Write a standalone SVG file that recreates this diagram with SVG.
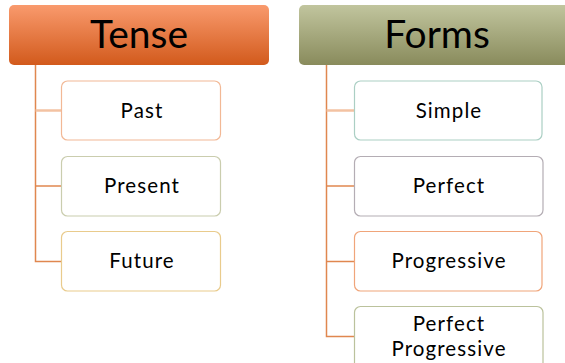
<svg xmlns="http://www.w3.org/2000/svg" width="565" height="363" viewBox="0 0 565 363">
<defs>
<linearGradient id="gOrange" x1="0" y1="0" x2="0" y2="1">
<stop offset="0" stop-color="#F99A6D"/>
<stop offset="1" stop-color="#D25A1C"/>
</linearGradient>
<linearGradient id="gOlive" x1="0" y1="0" x2="0" y2="1">
<stop offset="0" stop-color="#C1C59E"/>
<stop offset="1" stop-color="#898B5C"/>
</linearGradient>
</defs>
<style>
.head{font-family:"Lato","Open Sans",sans-serif;font-size:39px;fill:#000;text-anchor:middle}
.lbl{font-family:"Lato","Open Sans",sans-serif;font-size:20.5px;letter-spacing:1.1px;fill:#000;text-anchor:middle}
.child{fill:#fff;stroke-width:1.2}
.conn{stroke:#E0874F;stroke-width:1.5;fill:none}
</style>
<rect width="565" height="363" fill="#fff"/>
<g id="connectors">
<path class="conn" d="M35.5 65V261.5H61"/>
<path d="M35.5 110.5H61" stroke="#F3C2A2" stroke-width="2.5"/>
<path class="conn" d="M35.5 186H61"/>
<path class="conn" d="M326.5 65V336.5H354"/>
<path d="M326.5 110.5H354" stroke="#F3C2A2" stroke-width="2.5"/>
<path class="conn" d="M326.5 186H354"/>
<path class="conn" d="M326.5 261.5H354"/>
</g>
<g id="tense">
<rect x="9" y="5" width="260" height="60" rx="5" fill="url(#gOrange)"/>
<text class="head" x="139" y="48">Tense</text>
</g>
<g id="forms">
<rect x="299" y="5" width="275" height="60" rx="5" fill="url(#gOlive)"/>
<text class="head" x="437" y="48">Forms</text>
</g>
<g id="past">
<rect class="child" x="61.5" y="81" width="159" height="59" rx="6" stroke="#F2B895"/>
<text class="lbl" x="142" y="118">Past</text>
</g>
<g id="present">
<rect class="child" x="61.5" y="156.5" width="159" height="59.5" rx="6" stroke="#CACDAE"/>
<text class="lbl" x="142" y="193">Present</text>
</g>
<g id="future">
<rect class="child" x="61.5" y="231.5" width="159" height="59.5" rx="6" stroke="#E9CB8C"/>
<text class="lbl" x="142" y="268">Future</text>
</g>
<g id="simple">
<rect class="child" x="354.5" y="81" width="187.5" height="59" rx="6" stroke="#ABCFC4"/>
<text class="lbl" x="449" y="118">Simple</text>
</g>
<g id="perfect">
<rect class="child" x="354.5" y="156.5" width="188.5" height="59.5" rx="6" stroke="#B4ADB4"/>
<text class="lbl" x="449" y="193">Perfect</text>
</g>
<g id="progressive">
<rect class="child" x="354.5" y="231.5" width="187.5" height="59.5" rx="6" stroke="#F0A57A"/>
<text class="lbl" x="449" y="268">Progressive</text>
</g>
<g id="perfect-progressive">
<rect class="child" x="354.5" y="306.5" width="188.5" height="62" rx="6" stroke="#BBC29C"/>
<text class="lbl" x="449" y="331">Perfect</text>
<text class="lbl" x="449" y="356">Progressive</text>
</g>
</svg>
